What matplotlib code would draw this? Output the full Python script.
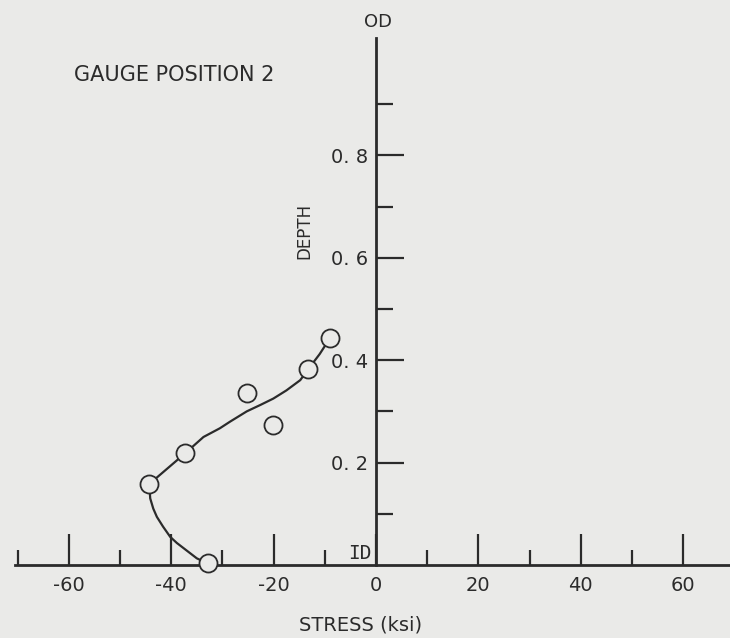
import matplotlib.pyplot as plt

plt.rcParams['axes.unicode_minus'] = False

# measured points (stress in ksi, fractional depth)
stress_pts = [-9.0, -13.2, -25.25, -20.06, -37.3, -44.3, -32.9]
depth_pts = [0.443, 0.383, 0.3365, 0.273, 0.218, 0.158, 0.003]

curve_stress = [-32.9, -35.0, -37.6, -38.9, -40.2, -41.6, -42.8, -43.5, -44.1,
                -44.3, -40.8, -37.3, -33.7, -30.5, -28.5, -25.25, -22.5,
                -20.06, -17.5, -14.8, -13.2, -11.0, -9.0]
curve_depth = [0.003, 0.013, 0.033, 0.043, 0.055, 0.075, 0.094, 0.110, 0.130,
               0.158, 0.188, 0.218, 0.250, 0.267, 0.280, 0.300, 0.313,
               0.325, 0.341, 0.361, 0.383, 0.412, 0.443]

x_major = [-60, -40, -20, 0, 20, 40, 60]
x_minor = [-70, -50, -30, -10, 10, 30, 50]
x_labels = ['-60', '-40', '-20', '0', '20', '40', '60']
y_major = [0.2, 0.4, 0.6, 0.8]
y_minor = [0.1, 0.3, 0.5, 0.7, 0.9]
y_labels = ['0. 2', '0. 4', '0. 6', '0. 8']

bg = '#eaeae8'
ink = '#2b2b2b'

fig = plt.figure(figsize=(7.3, 6.38), dpi=100, facecolor=bg)
ax = fig.add_axes([0, 0, 1, 1])
ax.set_facecolor(bg)
ax.set_xlim(-73.44, 69.14)
ax.set_ylim(-0.1426, 1.1035)

# axes crossing at zero
for side in ['top', 'right']:
    ax.spines[side].set_visible(False)
ax.spines['left'].set_position(('data', 0))
ax.spines['bottom'].set_position(('data', 0))
ax.spines['left'].set_bounds(0, 1.03)
ax.spines['bottom'].set_bounds(-70.5, 69.14)
for side in ['left', 'bottom']:
    ax.spines[side].set_color(ink)
    ax.spines[side].set_linewidth(2.0)

ax.set_xticks(x_major)
ax.set_xticklabels(x_labels)
ax.set_xticks(x_minor, minor=True)
ax.set_yticks(y_major)
ax.set_yticklabels(y_labels)
ax.set_yticks(y_minor, minor=True)

ax.tick_params(axis='x', which='major', direction='in', length=22, width=1.6,
               color=ink, labelcolor=ink, labelsize=14, pad=8)
ax.tick_params(axis='x', which='minor', direction='in', length=11, width=1.6,
               color=ink)
ax.tick_params(axis='y', which='major', direction='in', length=20, width=1.6,
               color=ink, labelcolor=ink, labelsize=14, pad=6)
ax.tick_params(axis='y', which='minor', direction='in', length=12, width=1.6,
               color=ink)

# curve and circles
ax.plot(curve_stress, curve_depth, color=ink, lw=1.6, zorder=3, clip_on=False,
        solid_joinstyle='round')
ax.plot(stress_pts, depth_pts, 'o', ms=13, mfc=bg, mec=ink, mew=1.3,
        zorder=4, clip_on=False)

# labels
ax.text(-39.45, 0.957, 'GAUGE POSITION 2', fontsize=15, color=ink,
        ha='center', va='center')
ax.text(0.3, 1.061, 'OD', fontsize=13, color=ink, ha='center', va='center')
ax.text(-3.1, 0.0234, 'ID', fontsize=14, color=ink, ha='center', va='center',
        family='DejaVu Sans Mono')
ax.text(-14.06, 0.652, 'DEPTH', fontsize=12, color=ink, rotation=90,
        ha='center', va='center')
ax.text(-3.1, -0.1175, 'STRESS (ksi)', fontsize=14, color=ink,
        ha='center', va='center')

fig.savefig('out.png', dpi=100, facecolor=bg)
